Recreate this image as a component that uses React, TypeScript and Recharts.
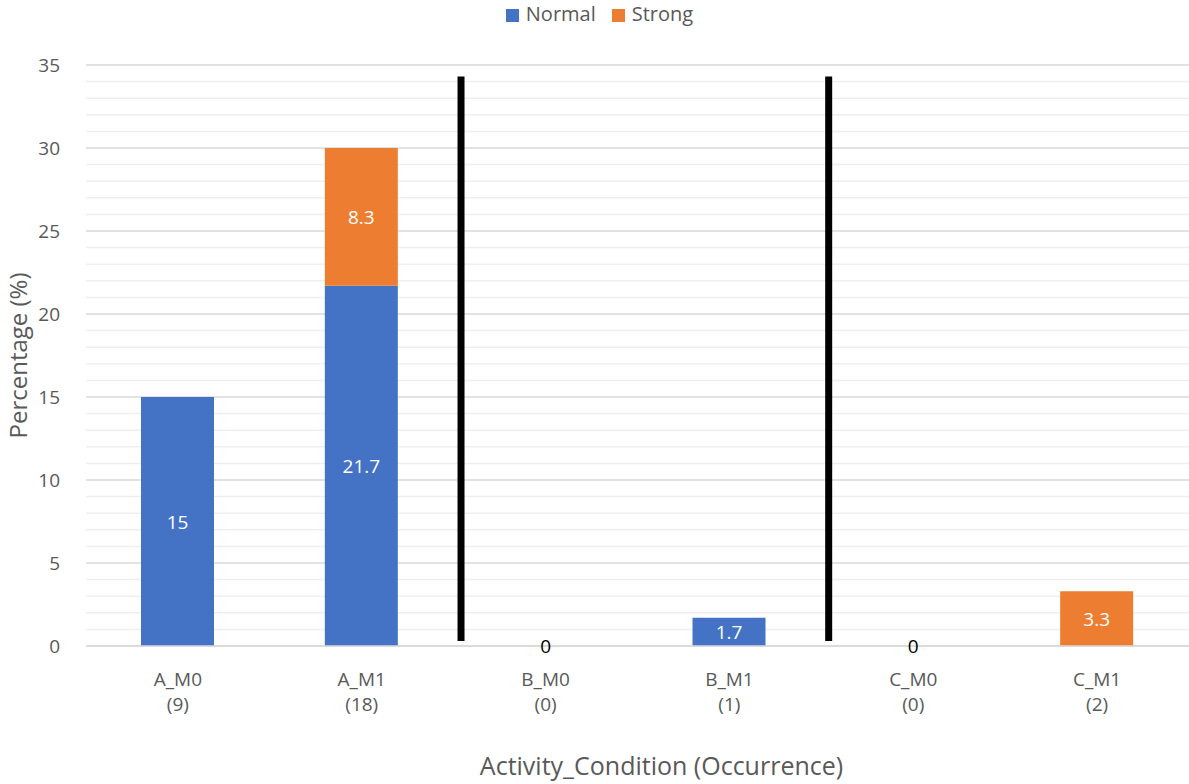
import { BarChart, Bar, XAxis, YAxis, CartesianGrid, Legend, LabelList, ReferenceLine, ReferenceDot } from "recharts";

const categories = ["A_M0", "A_M1", "B_M0", "B_M1", "C_M0", "C_M1"];
const occurrences = [9, 18, 0, 1, 0, 2];
const normalValues: (number | null)[] = [15, 21.7, 0, 1.7, 0, null];
const strongValues: (number | null)[] = [null, 8.3, null, null, null, 3.3];
const yMax = 35;
const majorTicks = [0, 5, 10, 15, 20, 25, 30, 35];
const minorTicks = [1, 2, 3, 4, 6, 7, 8, 9, 11, 12, 13, 14, 16, 17, 18, 19, 21, 22, 23, 24, 26, 27, 28, 29, 31, 32, 33, 34];
// separator positions in category slots (0..6)
const separators = [
  { x: 2.04, from: 0.3, to: 34.3 },
  { x: 4.04, from: 0.3, to: 34.3 },
];

const data = categories.map((name, i) => ({
  name,
  slot: i + 0.5,
  Normal: normalValues[i],
  Strong: strongValues[i],
}));

const FONT = "'Open Sans', 'Noto Sans', sans-serif";
const TEXT = "#595959";

function CategoryTick(props: any) {
  const { x, y, payload, index } = props;
  return (
    <g transform={`translate(${x},${y})`}>
      <text textAnchor="middle" fill={TEXT} fontSize={19} fontFamily={FONT}>
        <tspan x={0} dy={32}>{payload.value}</tspan>
        <tspan x={0} dy={25}>({occurrences[index]})</tspan>
      </text>
    </g>
  );
}

function ValueLabel(props: any) {
  const { x, y, width, height, value } = props;
  if (value === null || value === undefined || value === 0) return null;
  return (
    <text
      x={x + width / 2}
      y={y + height / 2}
      textAnchor="middle"
      dominantBaseline="central"
      fill="#fff"
      fontSize={19}
      fontFamily={FONT}
    >
      {value}
    </text>
  );
}

// minor gridlines, one per unit, mapped through the plot's linear y range
const minorLines = (args: any) => {
  const off = args?.offset;
  if (!off) return [];
  return minorTicks.map((t) => off.top + off.height * (1 - t / yMax));
};

export default function App() {
  return (
    <div style={{ position: "absolute", left: 0, top: 0, background: "#fff" }}>
      <BarChart
        width={1189}
        height={784}
        data={data}
        margin={{ top: 38, right: 0, bottom: 58, left: 26 }}
      >
        <CartesianGrid
          vertical={false}
          stroke="#efefef"
          strokeWidth={1.5}
          horizontalCoordinatesGenerator={minorLines}
        />
        <CartesianGrid vertical={false} stroke="#d9d9d9" strokeWidth={1.5} />
        <XAxis
          dataKey="name"
          axisLine={{ stroke: "#d9d9d9", strokeWidth: 1.5 }}
          tickLine={false}
          tick={<CategoryTick />}
          interval={0}
          height={80}
          label={{
            value: "Activity_Condition (Occurrence)",
            position: "insideBottom",
            offset: -49,
            dx: 24,
            fill: TEXT,
            fontSize: 25,
            fontFamily: FONT,
          }}
        />
        <XAxis xAxisId="sep" dataKey="slot" type="number" domain={[0, 6]} hide allowDataOverflow />
        <YAxis
          width={60}
          domain={[0, yMax]}
          ticks={majorTicks}
          axisLine={false}
          tickLine={false}
          tick={{ fill: TEXT, fontSize: 19, fontFamily: FONT }}
          tickMargin={20}
          label={{
            value: "Percentage (%)",
            angle: -90,
            position: "insideLeft",
            offset: -8,
            style: { textAnchor: "middle" },
            fill: TEXT,
            fontSize: 24,
            fontFamily: FONT,
          }}
        />
        <Legend
          verticalAlign="top"
          align="center"
          iconType="square"
          iconSize={13}
          wrapperStyle={{ top: 0, fontFamily: FONT, fontSize: 20 }}
          formatter={(v: string) => (
            <span style={{ color: TEXT, marginLeft: 3, marginRight: 6 }}>{v}</span>
          )}
        />
        <Bar dataKey="Normal" stackId="a" fill="#4472C4" barSize={73} isAnimationActive={false}>
          <LabelList dataKey="Normal" content={<ValueLabel />} />
        </Bar>
        <Bar dataKey="Strong" stackId="a" fill="#ED7D31" barSize={73} isAnimationActive={false}>
          <LabelList dataKey="Strong" content={<ValueLabel />} />
        </Bar>
        {categories.map((c, i) =>
          normalValues[i] === 0 ? (
            <ReferenceDot
              key={`z${c}`}
              x={c}
              y={0}
              r={0}
              fill="none"
              stroke="none"
              label={{ value: "0", position: "center", fill: "#000", fontSize: 19, fontFamily: FONT }}
            />
          ) : null
        )}
        {separators.map((s, i) => (
          <ReferenceLine
            key={i}
            xAxisId="sep"
            segment={[
              { x: s.x, y: s.from },
              { x: s.x, y: s.to },
            ]}
            stroke="#000"
            strokeWidth={7}
          />
        ))}
      </BarChart>
    </div>
  );
}
